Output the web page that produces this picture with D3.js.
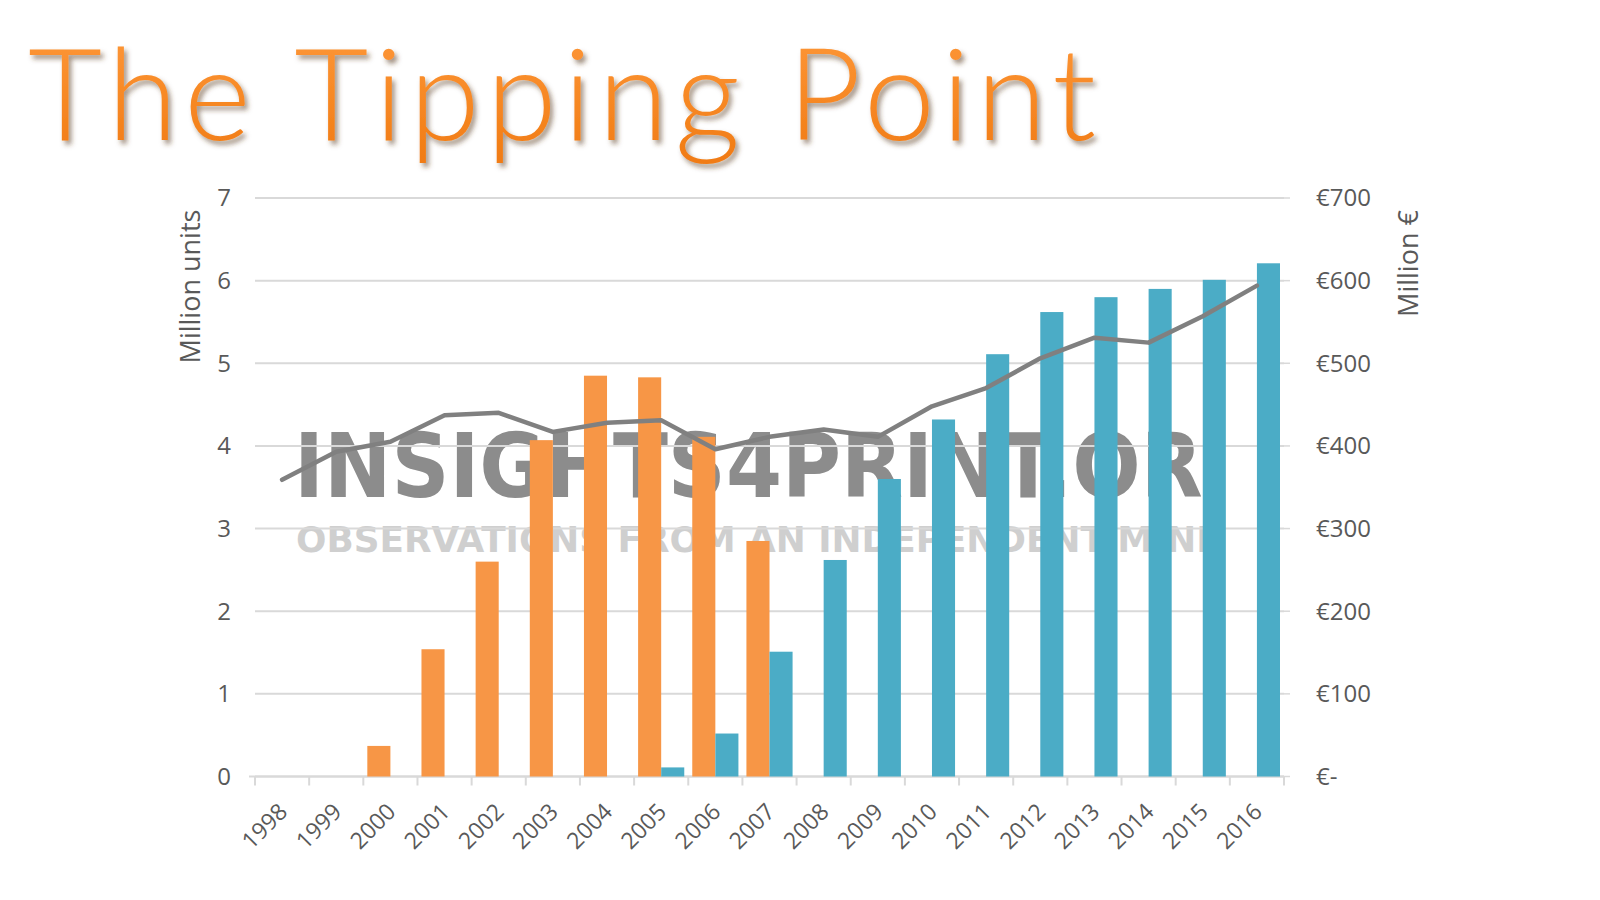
<!DOCTYPE html>
<html>
<head>
<meta charset="utf-8">
<script src="https://cdn.jsdelivr.net/npm/d3@7/dist/d3.min.js"></script>
<style>
  html, body { margin: 0; padding: 0; background: #ffffff; }
  svg { display: block; }
</style>
</head>
<body>
<svg id="chart" width="1600" height="900"></svg>
<script>
// ---- Data ----
const years = ["1998","1999","2000","2001","2002","2003","2004","2005","2006","2007",
               "2008","2009","2010","2011","2012","2013","2014","2015","2016"];
const seriesNames = ["orange", "teal"];
const orangeUnits = [0, 0, 0.37, 1.54, 2.60, 4.07, 4.85, 4.83, 4.11, 2.85,
                     0, 0, 0, 0, 0, 0, 0, 0, 0];
const tealUnits   = [0, 0, 0, 0, 0, 0, 0, 0.11, 0.52, 1.51,
                     2.62, 3.60, 4.32, 5.11, 5.62, 5.80, 5.90, 6.01, 6.21];
const revenue     = [359, 393, 405, 437, 440, 417, 428, 431, 396, 411,
                     420, 411, 448, 470, 506, 531, 525, 557, 594];
const leftTicks  = [0, 1, 2, 3, 4, 5, 6, 7];
const rightTicks = [0, 100, 200, 300, 400, 500, 600, 700];
const rightTickLabels = ["€-", "€100", "€200", "€300", "€400", "€500", "€600", "€700"];
const titleText = "The Tipping Point";
const leftAxisTitle = "Million units";
const rightAxisTitle = "Million €";
const watermark1 = "INSIGHTS4PRINT.ORG";
const watermark2 = "OBSERVATIONS FROM AN INDEPENDENT MIND";

// ---- Layout ----
const svg = d3.select("#chart");
const plot = { left: 255, right: 1284, top: 198, bottom: 776.5 };
const colors = { orange: "#F79646", teal: "#4BACC6", line: "#808080", grid: "#D9D9D9", text: "#595959" };
const font = "'Open Sans', 'Noto Sans', sans-serif";

const x = d3.scaleBand().domain(years).range([plot.left, plot.right]).padding(0);
const xSub = d3.scaleBand().domain(seriesNames).range([4, x.bandwidth() - 4]).padding(0);
const yL = d3.scaleLinear().domain([0, 7]).range([plot.bottom, plot.top]);
const yR = d3.scaleLinear().domain([0, 700]).range([plot.bottom, plot.top]);

// defs
const defs = svg.append("defs");
const shadow = defs.append("filter").attr("id", "titleShadow")
  .attr("x", "-5%").attr("y", "-20%").attr("width", "115%").attr("height", "150%");
shadow.append("feDropShadow").attr("dx", 3).attr("dy", 4).attr("stdDeviation", 2.5)
  .attr("flood-color", "#5a3a1a").attr("flood-opacity", 0.55);
const grad = defs.append("linearGradient").attr("id", "titleGrad")
  .attr("x1", 0).attr("y1", 0).attr("x2", 0).attr("y2", 1);
grad.append("stop").attr("offset", "0%").attr("stop-color", "#FF9A3C");
grad.append("stop").attr("offset", "100%").attr("stop-color", "#F07A12");
defs.append("clipPath").attr("id", "wmClip")
  .append("rect").attr("x", 280).attr("y", 400).attr("width", 925).attr("height", 170);

// ---- Watermark (behind everything) ----
const wm = svg.append("g").attr("clip-path", "url(#wmClip)")
  .style("font-family", "'Liberation Sans Narrow', 'DejaVu Sans Condensed', 'Liberation Sans', sans-serif")
  .style("font-weight", "bold");
wm.append("text")
  .attr("x", 294).attr("y", 497)
  .attr("textLength", 975).attr("lengthAdjust", "spacingAndGlyphs")
  .style("font-size", "89px").style("fill", "#8C8C8C")
  .text(watermark1);
wm.append("text")
  .attr("x", 296).attr("y", 552)
  .attr("textLength", 930).attr("lengthAdjust", "spacingAndGlyphs")
  .style("font-size", "36px").style("fill", "#CFCFCF")
  .text(watermark2);

// ---- Gridlines ----
svg.append("g").selectAll("line").data(leftTicks.filter(d => d > 0)).join("line")
  .attr("x1", plot.left).attr("x2", plot.right)
  .attr("y1", d => yL(d)).attr("y2", d => yL(d))
  .attr("stroke", colors.grid).attr("stroke-width", 2);

// x axis baseline and ticks
const xAxisG = svg.append("g").attr("transform", `translate(0,${plot.bottom})`);
xAxisG.append("line").attr("x1", plot.left).attr("x2", plot.right)
  .attr("stroke", colors.grid).attr("stroke-width", 2.5);
const boundaries = years.map(y => x(y)).concat([plot.right]);
xAxisG.selectAll("line.tk").data(boundaries).join("line").attr("class", "tk")
  .attr("x1", d => d).attr("x2", d => d).attr("y1", 0).attr("y2", 9)
  .attr("stroke", colors.grid).attr("stroke-width", 2);

// right axis small outward ticks
svg.append("g").selectAll("line").data(rightTicks).join("line")
  .attr("x1", plot.right).attr("x2", plot.right + 6)
  .attr("y1", d => yR(d)).attr("y2", d => yR(d))
  .attr("stroke", colors.grid).attr("stroke-width", 1.5);
svg.append("line").attr("x1", plot.left - 6).attr("x2", plot.left)
  .attr("y1", plot.bottom).attr("y2", plot.bottom)
  .attr("stroke", colors.grid).attr("stroke-width", 2);

// ---- Bars ----
const barData = [];
years.forEach((yr, i) => {
  barData.push({ year: yr, s: "orange", v: orangeUnits[i] });
  barData.push({ year: yr, s: "teal", v: tealUnits[i] });
});
svg.append("g").selectAll("rect").data(barData.filter(d => d.v > 0)).join("rect")
  .attr("x", d => x(d.year) + xSub(d.s))
  .attr("width", xSub.bandwidth())
  .attr("y", d => yL(d.v))
  .attr("height", d => yL(0) - yL(d.v))
  .attr("fill", d => colors[d.s]);

// ---- Line ----
const lineGen = d3.line()
  .x((d, i) => x(years[i]) + x.bandwidth() / 2)
  .y(d => yR(d));
svg.append("path").datum(revenue)
  .attr("d", lineGen)
  .attr("fill", "none").attr("stroke", colors.line)
  .attr("stroke-width", 4.5).attr("stroke-linejoin", "round").attr("stroke-linecap", "round");

// ---- Axis labels ----
svg.append("g").selectAll("text").data(leftTicks).join("text")
  .attr("x", 231).attr("y", d => yL(d)).attr("dy", "0.35em")
  .attr("text-anchor", "end")
  .style("font-family", font).style("font-size", "24px").style("fill", colors.text)
  .text(d => d);

svg.append("g").selectAll("text").data(rightTicks).join("text")
  .attr("x", 1316).attr("y", d => yR(d)).attr("dy", "0.35em")
  .attr("text-anchor", "start")
  .style("font-family", font).style("font-size", "24px").style("fill", colors.text)
  .text((d, i) => rightTickLabels[i]);

svg.append("g").selectAll("text").data(years).join("text")
  .attr("transform", d => `translate(${x(d) + x.bandwidth() / 2 + 1},${plot.bottom + 31}) rotate(-45)`)
  .attr("text-anchor", "end").attr("dy", "0.35em")
  .style("font-family", font).style("font-size", "23px").style("fill", colors.text)
  .text(d => d);

svg.append("text")
  .attr("transform", `translate(200,${(364 + 209) / 2}) rotate(-90)`)
  .attr("text-anchor", "middle")
  .style("font-family", font).style("font-size", "27px").style("fill", colors.text)
  .text(leftAxisTitle);

svg.append("text")
  .attr("transform", `translate(1418,${(318 + 209) / 2}) rotate(-90)`)
  .attr("text-anchor", "middle")
  .style("font-family", font).style("font-size", "27px").style("fill", colors.text)
  .text(rightAxisTitle);

// ---- Title ----
svg.append("text")
  .attr("x", 28).attr("y", 140)
  .attr("textLength", 1068).attr("lengthAdjust", "spacing")
  .attr("filter", "url(#titleShadow)")
  .style("font-family", "Lato, 'Open Sans', sans-serif")
  .style("font-weight", 300).style("font-size", "128px")
  .style("fill", "url(#titleGrad)")
  .text(titleText);
</script>
</body>
</html>
